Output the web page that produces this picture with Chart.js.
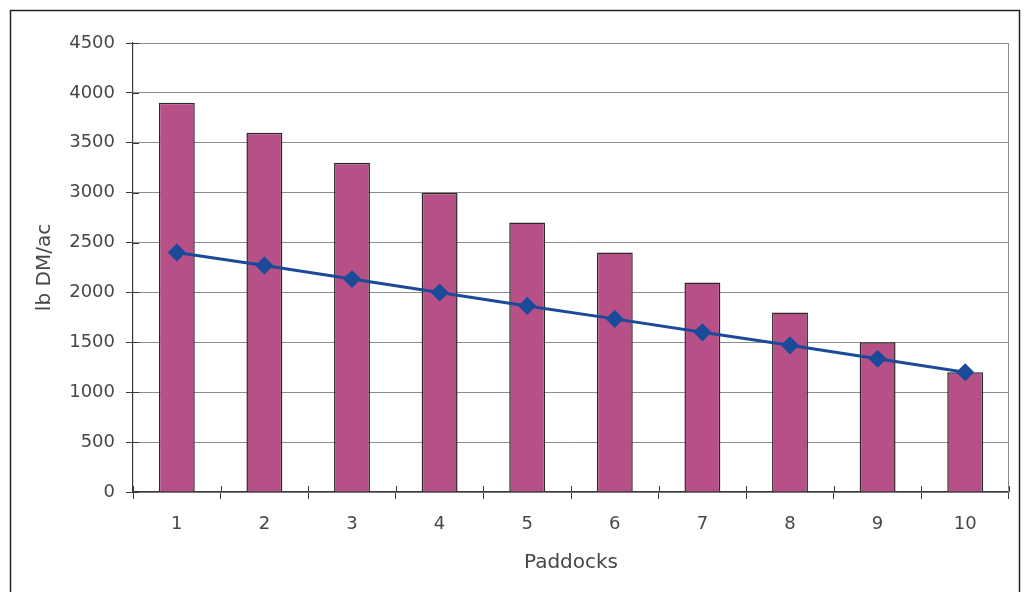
<!DOCTYPE html>
<html>
<head>
<meta charset="utf-8">
<style>
  html, body { margin: 0; padding: 0; background: #ffffff; }
  #wrap { width: 1024px; height: 592px; }
</style>
<script src="https://cdn.jsdelivr.net/npm/chart.js@4/dist/chart.umd.min.js"></script>
</head>
<body>
<div id="wrap"><canvas id="chart" width="1024" height="592"></canvas></div>
<script>
// Paddock categories and forage values (lb dry matter per acre)
const paddocks = ['1', '2', '3', '4', '5', '6', '7', '8', '9', '10'];
const forageAvailable = [3900, 3600, 3300, 3000, 2700, 2400, 2100, 1800, 1500, 1200];
const targetLine = [2400, 2270, 2135, 2000, 1865, 1735, 1600, 1470, 1335, 1200];
const yTickValues = [0, 500, 1000, 1500, 2000, 2500, 3000, 3500, 4000, 4500];

const FONT = 'DejaVu Sans, Liberation Sans, Arial, sans-serif';
const TEXT = '#474747';
const AXIS = '#3a3a3a';

// Frame around the whole figure, right edge of the plot, and tick marks
// that cross the axis lines.
const framePlugin = {
  id: 'frame',
  afterDraw(chart) {
    const ctx = chart.ctx;
    const a = chart.chartArea;
    ctx.save();
    ctx.strokeStyle = '#222222';
    ctx.lineWidth = 1.5;
    ctx.strokeRect(10.5, 10.5, 1009, 620);

    ctx.strokeStyle = '#8c8c8c';
    ctx.lineWidth = 1;
    ctx.beginPath();
    ctx.moveTo(Math.round(a.right) - 0.5, a.top);
    ctx.lineTo(Math.round(a.right) - 0.5, a.bottom);
    ctx.stroke();

    ctx.strokeStyle = AXIS;
    ctx.lineWidth = 1;
    ctx.beginPath();
    const ys = chart.scales.y;
    yTickValues.forEach(v => {
      const py = Math.round(ys.getPixelForValue(v)) + 0.5;
      ctx.moveTo(a.left, py);
      ctx.lineTo(a.left + 6, py);
    });
    const xs = chart.scales.x;
    const step = (xs.right - xs.left) / paddocks.length;
    for (let i = 0; i <= paddocks.length; i++) {
      const px = Math.round(xs.left + i * step) + 0.5;
      ctx.moveTo(px, a.bottom);
      ctx.lineTo(px, a.bottom - 6);
    }
    ctx.stroke();
    ctx.restore();
  }
};

new Chart(document.getElementById('chart'), {
  type: 'bar',
  data: {
    labels: paddocks,
    datasets: [
      {
        type: 'line',
        data: targetLine,
        borderColor: '#1b4a98',
        borderWidth: 3,
        pointStyle: 'rectRot',
        pointRadius: 8,
        pointBorderWidth: 1.5,
        pointBackgroundColor: '#1b4a98',
        pointBorderColor: '#1b4a98',
        tension: 0,
        order: 0
      },
      {
        type: 'bar',
        data: forageAvailable,
        backgroundColor: '#b65087',
        borderColor: '#2a2a2a',
        borderWidth: 1.5,
        barPercentage: 0.41,
        categoryPercentage: 1,
        order: 1
      }
    ]
  },
  options: {
    responsive: false,
    animation: false,
    devicePixelRatio: 1,
    layout: { padding: { left: 0, top: 43, right: 15, bottom: 0 } },
    plugins: {
      legend: { display: false },
      tooltip: { enabled: false }
    },
    scales: {
      x: {
        offset: true,
        grid: {
          offset: true,
          drawOnChartArea: false,
          drawTicks: true,
          tickLength: 7,
          tickColor: AXIS,
          lineWidth: 1
        },
        border: { color: AXIS, width: 1.2 },
        ticks: {
          color: TEXT,
          font: { family: FONT, size: 18 },
          padding: 15
        },
        title: {
          display: true,
          text: 'Paddocks',
          color: TEXT,
          font: { family: FONT, size: 20 },
          padding: { top: 0, bottom: 17 }
        },
        afterFit(scale) { scale.height = 100; }
      },
      y: {
        min: 0,
        max: 4500,
        afterBuildTicks(scale) {
          scale.ticks = yTickValues.map(v => ({ value: v }));
        },
        grid: {
          color: '#8c8c8c',
          lineWidth: 1,
          drawTicks: true,
          tickLength: 7,
          tickColor: AXIS
        },
        border: { color: AXIS, width: 1.2 },
        ticks: {
          color: TEXT,
          font: { family: FONT, size: 18 },
          padding: 11,
          callback: v => String(v)
        },
        title: {
          display: true,
          text: 'lb DM/ac',
          color: TEXT,
          font: { family: FONT, size: 20 },
          padding: { top: 33, bottom: 0 }
        },
        afterFit(scale) { scale.width = 133; }
      }
    }
  },
  plugins: [framePlugin]
});
</script>
</body>
</html>
